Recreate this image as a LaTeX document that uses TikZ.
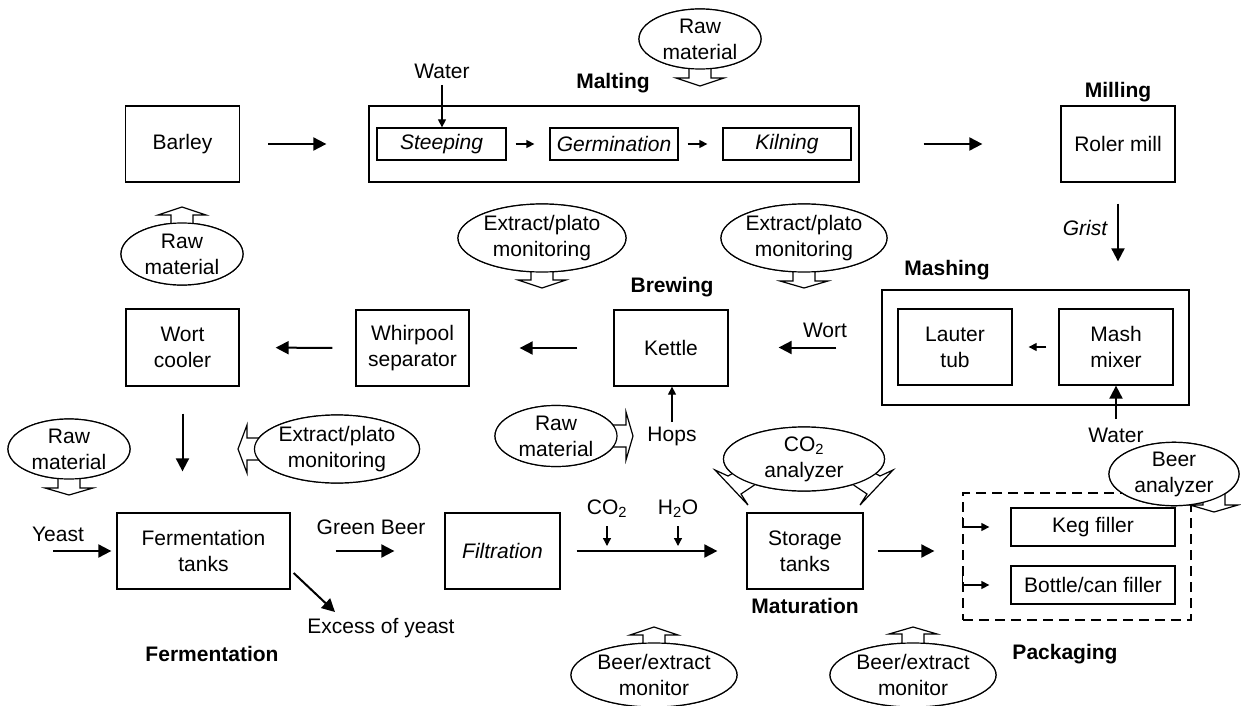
\documentclass[tikz,border=0pt]{standalone}
\usepackage{fontspec}
\setmainfont{Liberation Sans}
\usetikzlibrary{arrows.meta,shapes.geometric}

\newcommand{\diagfont}{\fontsize{21}{26}\selectfont}
% hollow block arrow: #1 origin, #2 direction angle, #3 shaft length, #4 head length
\newcommand{\hollowarrow}[4]{%
  \draw[hollow,shift={#1},rotate=#2] (0,-11) -- (#3,-11) -- (#3,-24) -- ({#3+#4},0) -- (#3,24) -- (#3,11) -- (0,11) -- cycle;}

\tikzset{
  box/.style={draw, line width=1.3pt, inner sep=0pt, align=center, font=\diagfont},
  oval/.style={ellipse, draw, line width=1.2pt, fill=white, inner sep=0pt, align=center, font=\diagfont},
  lbl/.style={inner sep=0pt, align=center, font=\diagfont},
  stage/.style={inner sep=0pt, font=\diagfont\bfseries},
  bigarrow/.style={line width=2pt, -{Triangle[length=13pt,width=13pt]}},
  smallarrow/.style={line width=1.3pt, -{Triangle[length=8pt,width=8pt]}},
  hollow/.style={draw, line width=1.2pt, fill=white, line join=miter},
}

\begin{document}
\begin{tikzpicture}[x=1pt,y=-1pt]
\useasboundingbox (0,0) rectangle (1241,706);

% ---------- malting line ----------
\node[box, minimum width=114pt, minimum height=76pt] (barley) at (182.5,144) {Barley};
\node[box, minimum width=490pt, minimum height=76pt] (malt) at (614,144) {};
\node[box, minimum width=129pt, minimum height=32pt] (steep) at (441.5,144) {\itshape Steeping};
\node[box, minimum width=128pt, minimum height=32pt] (germ) at (614,144) {\itshape Germination};
\node[box, minimum width=128pt, minimum height=32pt] (kiln) at (787,144) {\itshape Kilning};
\node[box, minimum width=114pt, minimum height=76pt] (roler) at (1118,144) {Roler mill};

\node[lbl] (watS) at (442,71) {Water};
\node[stage] (maltlbl) at (613,83) {Malting};
\node[stage] (milllbl) at (1118,92) {Milling};

\draw[smallarrow] ([yshift=-14pt]watS.center) -- (watS.center |- steep.north);
\draw[smallarrow, shorten <=9pt, shorten >=15pt] (steep.east) -- (germ.west);
\draw[smallarrow, shorten <=9pt, shorten >=15pt] (germ.east) -- (kiln.west);
\draw[bigarrow, shorten <=28pt, shorten >=42pt] (barley.east) -- (malt.west);
\draw[bigarrow, shorten <=64pt, shorten >=78pt] (malt.east) -- (roler.west);

\node[oval, minimum width=122pt, minimum height=60pt] (rawM) at (700,39) {Raw\\material};
\hollowarrow{(rawM.center)}{-90}{39}{8}
\node[oval, minimum width=122pt, minimum height=60pt] at (rawM) {Raw\\material};

% ---------- mashing ----------
\node[box, minimum width=307pt, minimum height=115pt] (mash) at (1035.5,347.5) {};
\node[box, minimum width=114pt, minimum height=76pt] (lauter) at (955,347) {Lauter\\tub};
\node[box, minimum width=114pt, minimum height=76pt] (mixer) at (1116,347) {Mash\\mixer};
\node[stage] (mashlbl) at (947,270) {Mashing};
\node[lbl, font=\diagfont\itshape] (grist) at (1085,228) {Grist};
\node[lbl] (watM) at (1116,435) {Water};

\draw[bigarrow, shorten <=21pt, shorten >=28pt] (roler.south) -- (roler.south |- mash.north);
\draw[smallarrow, shorten <=12pt, shorten >=16pt] (mixer.west) -- (lauter.east);
\draw[bigarrow] ([yshift=16pt]watM.center) -- (mixer.south);

% ---------- brewing ----------
\node[box, minimum width=114pt, minimum height=76pt] (kettle) at (671,348) {Kettle};
\node[box, minimum width=113pt, minimum height=76pt] (whirl) at (412.5,348) {Whirpool\\separator};
\node[box, minimum width=113pt, minimum height=77pt] (cooler) at (182.5,347.5) {Wort\\cooler};
\node[stage] (brewlbl) at (672,287) {Brewing};
\node[lbl] (wortlbl) at (825,330) {Wort};
\node[lbl] (hopslbl) at (672,436) {Hops};

\draw[bigarrow, shorten <=45pt, shorten >=50pt] (mash.west) -- (mash.west -| kettle.east);
\draw[bigarrow, shorten <=36pt, shorten >=50pt] (kettle.west) -- (whirl.east);
\draw[bigarrow, shorten <=23pt, shorten >=36pt] (whirl.west) -- (cooler.east);
\draw[smallarrow] ([yshift=14pt]hopslbl.center) -- (hopslbl.center |- kettle.south);

\node[oval, minimum width=122pt, minimum height=62pt] (rawB) at (182,254) {Raw\\material};
\hollowarrow{(rawB.center)}{90}{39}{8}
\node[oval, minimum width=122pt, minimum height=62pt] at (rawB) {Raw\\material};

\node[oval, minimum width=168pt, minimum height=68pt] (extA) at (542,238) {Extract/plato\\monitoring};
\hollowarrow{(extA.center)}{-90}{42}{8}
\node[oval, minimum width=168pt, minimum height=68pt] at (extA) {Extract/plato\\monitoring};

\node[oval, minimum width=166pt, minimum height=68pt] (extB) at (804,238) {Extract/plato\\monitoring};
\hollowarrow{(extB.center)}{-90}{43}{7}
\node[oval, minimum width=166pt, minimum height=68pt] at (extB) {Extract/plato\\monitoring};

\node[oval, minimum width=122pt, minimum height=61pt] (rawH) at (556,436) {Raw\\material};
\hollowarrow{(rawH.center)}{0}{70}{7}
\node[oval, minimum width=122pt, minimum height=61pt] at (rawH) {Raw\\material};

% ---------- fermentation, filtration, maturation ----------
\node[box, minimum width=173pt, minimum height=76pt] (ferm) at (203.5,551) {Fermentation\\tanks};
\node[box, minimum width=115pt, minimum height=76pt] (filt) at (502.5,551) {\itshape Filtration};
\node[box, minimum width=116pt, minimum height=76pt] (storage) at (805,551) {Storage\\tanks};

\node[lbl] (yeastlbl) at (58,534) {Yeast};
\coordinate (yeastin) at (53,551);
\node[lbl] (greenlbl) at (371,527) {Green Beer};
\node[lbl] (excess) at (381,628) {Excess of yeast};
\node[stage] (fermlbl) at (212,654) {Fermentation};
\node[stage] (maturlbl) at (805,606) {Maturation};
\node[lbl, anchor=base] (co2lbl) at (607,514) {CO\textsubscript{2}};
\node[lbl, anchor=base] (h2olbl) at (678,514) {H\textsubscript{2}O};

\draw[bigarrow, shorten <=27pt, shorten >=41pt] (cooler.south) -- (cooler.south |- ferm.north);
\draw[bigarrow, shorten >=5pt] (yeastin) -- (yeastin -| ferm.west);
\draw[bigarrow, shorten <=45pt, shorten >=50pt] (ferm.east) -- (filt.west);
\draw[bigarrow] ([xshift=3pt,yshift=-22pt]ferm.east) -- ([xshift=-46pt,yshift=6pt]excess.north);
\draw[bigarrow, shorten <=16pt, shorten >=29pt] (filt.east) -- (storage.west);
\draw[smallarrow] ([yshift=-12pt]co2lbl.base) -- ([yshift=-32pt]co2lbl.base);
\draw[smallarrow] ([yshift=-12pt]h2olbl.base) -- ([yshift=-32pt]h2olbl.base);

\node[oval, minimum width=122pt, minimum height=60pt] (rawF) at (69,449) {Raw\\material};
\hollowarrow{(rawF.center)}{-90}{39}{7}
\node[oval, minimum width=122pt, minimum height=60pt] at (rawF) {Raw\\material};

\node[oval, minimum width=164pt, minimum height=68pt] (extF) at (337,449) {Extract/plato\\monitoring};
\hollowarrow{(extF.center)}{180}{90}{9}
\node[oval, minimum width=164pt, minimum height=68pt] at (extF) {Extract/plato\\monitoring};

% CO2 analyzer with its two curved block arrows onto the storage tanks
\node[oval, minimum width=161pt, minimum height=64pt] (co2an) at (804,459) {CO\textsubscript{2}\\analyzer};
\foreach \side in {1,-1}{
  \draw[hollow, shift={(co2an.center)}, xscale=\side]
    (-60,8) -- (-76,17) -- (-89,11) -- (-56,46) -- (-63,35) -- (-51,27) -- (-40,18) -- cycle;
}
\node[oval, minimum width=161pt, minimum height=64pt] at (co2an) {CO\textsubscript{2}\\analyzer};

\node[oval, minimum width=166pt, minimum height=64pt] (monA) at (654,675) {Beer/extract\\monitor};
\hollowarrow{(monA.center)}{90}{40}{8}
\node[oval, minimum width=166pt, minimum height=64pt] at (monA) {Beer/extract\\monitor};

\node[oval, minimum width=166pt, minimum height=64pt] (monB) at (913,675) {Beer/extract\\monitor};
\hollowarrow{(monB.center)}{90}{41}{7}
\node[oval, minimum width=166pt, minimum height=64pt] at (monB) {Beer/extract\\monitor};

% ---------- packaging ----------
\node[draw, dashed, dash pattern=on 10pt off 6pt, line width=1.3pt, minimum width=228pt, minimum height=127pt, inner sep=0pt] (pack) at (1077,556.5) {};
\node[box, minimum width=164pt, minimum height=38pt] (keg) at (1093,527) {Keg filler};
\node[box, minimum width=164pt, minimum height=38pt] (bottle) at (1093,585) {Bottle/can filler};
\node[stage] (packlbl) at (1065,654) {Packaging};

\draw[bigarrow, shorten <=14pt, shorten >=28pt] (storage.east) -- (storage.east -| pack.west);
\draw[smallarrow] ([yshift=10pt]pack.west |- keg.west) -- (pack.west |- keg.west) -- ([xshift=-21pt]keg.west);
\draw[smallarrow] ([yshift=10pt]pack.west |- bottle.west) -- (pack.west |- bottle.west) -- ([xshift=-21pt]bottle.west);

\node[oval, minimum width=130pt, minimum height=60pt] (beeran) at (1174,474) {Beer\\analyzer};
\hollowarrow{([xshift=40pt]beeran.center)}{-90}{31}{7}
\node[oval, minimum width=130pt, minimum height=60pt] at (beeran) {Beer\\analyzer};

\end{tikzpicture}
\end{document}
